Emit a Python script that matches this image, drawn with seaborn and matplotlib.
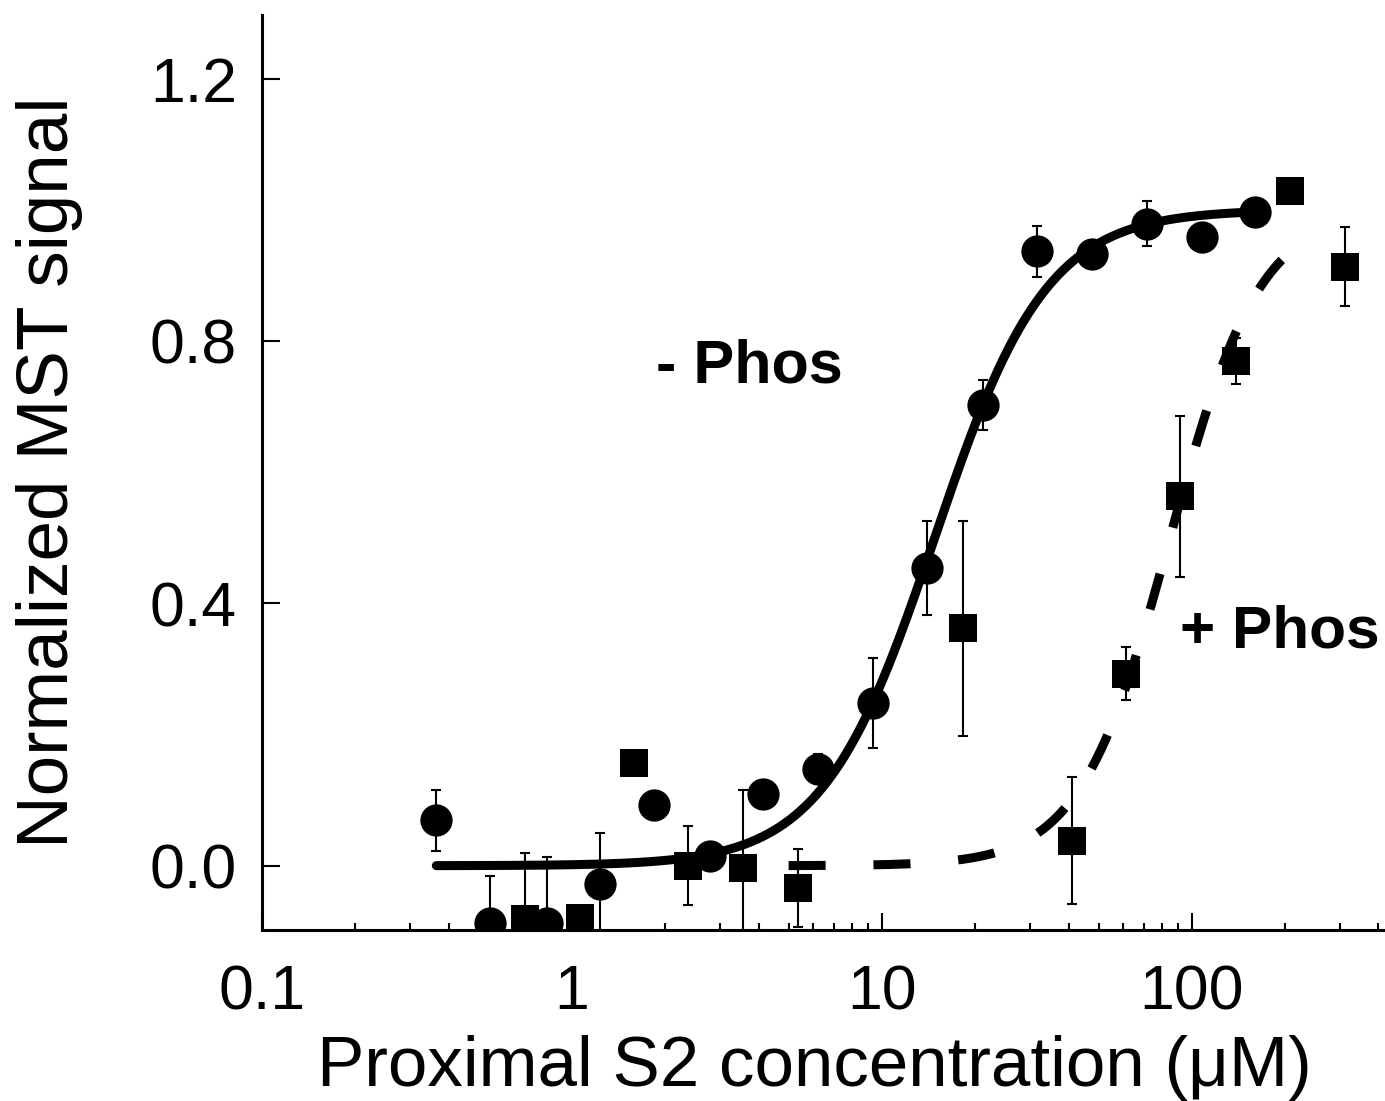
import numpy as np
import pandas as pd
import matplotlib
matplotlib.use("Agg")
import matplotlib.pyplot as plt
import seaborn as sns

# - Phos (circles): concentration (uM), normalized signal, error
minus_conc = [0.365, 0.545, 0.832, 1.23, 1.84, 2.79, 4.14, 6.23, 9.37, 14.0,
              21.2, 31.7, 47.7, 71.8, 108, 160]
minus_sig = [0.069, -0.087, -0.087, -0.028, 0.092, 0.015, 0.110, 0.148, 0.248, 0.454,
             0.702, 0.937, 0.933, 0.979, 0.959, 0.997]
minus_err = [0.046, 0.072, 0.100, 0.078, 0.0, 0.0, 0.0, 0.023, 0.068, 0.071,
             0.038, 0.039, 0.0, 0.034, 0.015, 0.0]

# + Phos (squares)
plus_conc = [0.707, 1.06, 1.58, 2.37, 3.57, 5.37, 18.2, 41.1, 61.4, 91.6, 139, 207, 312]
plus_sig = [-0.081, -0.080, 0.156, 0.0, -0.003, -0.034, 0.362, 0.038, 0.293, 0.563,
            0.769, 1.029, 0.913]
plus_err = [0.100, 0.0, 0.0, 0.060, 0.118, 0.060, 0.164, 0.097, 0.040, 0.123,
            0.035, 0.010, 0.060]

# Hill fit parameters (Kd in uM, Hill coefficient)
minus_kd, minus_n = 14.8, 2.4
plus_kd, plus_n = 85.0, 3.0
minus_range = (0.365, 160)
plus_range = (5.0, 250)

xticks = [0.1, 1, 10, 100]
xticklabels = ["0.1", "1", "10", "100"]
yticks = [0.0, 0.4, 0.8, 1.2]
yticklabels = ["0.0", "0.4", "0.8", "1.2"]


def hill(x, kd, n):
    return x ** n / (kd ** n + x ** n)


def main():
    sns.set_theme(style="ticks")
    plt.rcParams["font.family"] = ["Liberation Sans", "DejaVu Sans"]
    plt.rcParams["text.color"] = "black"
    plt.rcParams["axes.labelcolor"] = "black"
    plt.rcParams["xtick.color"] = "black"
    plt.rcParams["ytick.color"] = "black"

    minus_df = pd.DataFrame({"conc": minus_conc, "sig": minus_sig, "err": minus_err})
    plus_df = pd.DataFrame({"conc": plus_conc, "sig": plus_sig, "err": plus_err})

    xs_minus = np.logspace(np.log10(minus_range[0]), np.log10(minus_range[1]), 300)
    xs_plus = np.logspace(np.log10(plus_range[0]), np.log10(plus_range[1]), 300)
    fit_minus = pd.DataFrame({"conc": xs_minus, "sig": hill(xs_minus, minus_kd, minus_n)})
    fit_plus = pd.DataFrame({"conc": xs_plus, "sig": hill(xs_plus, plus_kd, plus_n)})

    fig = plt.figure(figsize=(13.85, 11.01), dpi=100)
    ax = fig.add_axes([0.1892, 0.1553, 0.8108, 0.8311])

    # error bars (drawn under the markers)
    for df in (minus_df, plus_df):
        ax.errorbar(df["conc"], df["sig"], yerr=df["err"], fmt="none",
                    ecolor="black", elinewidth=1.5, capsize=3.6, capthick=1.5, zorder=2)

    # fitted curves
    sns.lineplot(data=fit_minus, x="conc", y="sig", ax=ax, color="black",
                 linewidth=6.5, zorder=4)
    sns.lineplot(data=fit_plus, x="conc", y="sig", ax=ax, color="black",
                 linewidth=6.5, linestyle=(0, (4.1, 5.3)), dash_capstyle="butt", zorder=4)

    # data points
    sns.scatterplot(data=minus_df, x="conc", y="sig", ax=ax, marker="o", s=540,
                    color="black", edgecolor="black", linewidth=0, zorder=3)
    sns.scatterplot(data=plus_df, x="conc", y="sig", ax=ax, marker="s", s=410,
                    color="black", edgecolor="black", linewidth=0, zorder=3)

    ax.text(1.86, 0.736, "- Phos", fontsize=44, fontweight="bold", ha="left", va="baseline")
    ax.text(91.6, 0.332, "+ Phos", fontsize=43.5, fontweight="bold", ha="left", va="baseline")

    ax.set_xscale("log")
    ax.set_xlim(0.1, 420)
    ax.set_ylim(-0.098, 1.297)
    ax.set_xticks(xticks)
    ax.set_xticklabels(xticklabels)
    ax.set_yticks(yticks)
    ax.set_yticklabels(yticklabels)
    ax.minorticks_on()
    ax.yaxis.set_tick_params(which="minor", left=False)

    ax.tick_params(axis="x", which="major", direction="in", length=12, width=1.5,
                   labelsize=45, pad=24)
    ax.tick_params(axis="x", which="minor", direction="in", length=5, width=1.5)
    ax.tick_params(axis="y", which="major", direction="in", length=13, width=1.5,
                   labelsize=45, pad=18)

    sns.despine(ax=ax)
    for side in ("left", "bottom"):
        ax.spines[side].set_linewidth(2.2)
        ax.spines[side].set_color("black")

    ax.set_xlabel("Proximal S2 concentration (\u03bcM)", fontsize=51, labelpad=9)
    ax.xaxis.label.set_x(0.492)
    ax.set_ylabel("Normalized MST signal", fontsize=52.5, labelpad=48)
    ax.grid(False)

    fig.savefig("out.png", dpi=100)


if __name__ == "__main__":
    main()
